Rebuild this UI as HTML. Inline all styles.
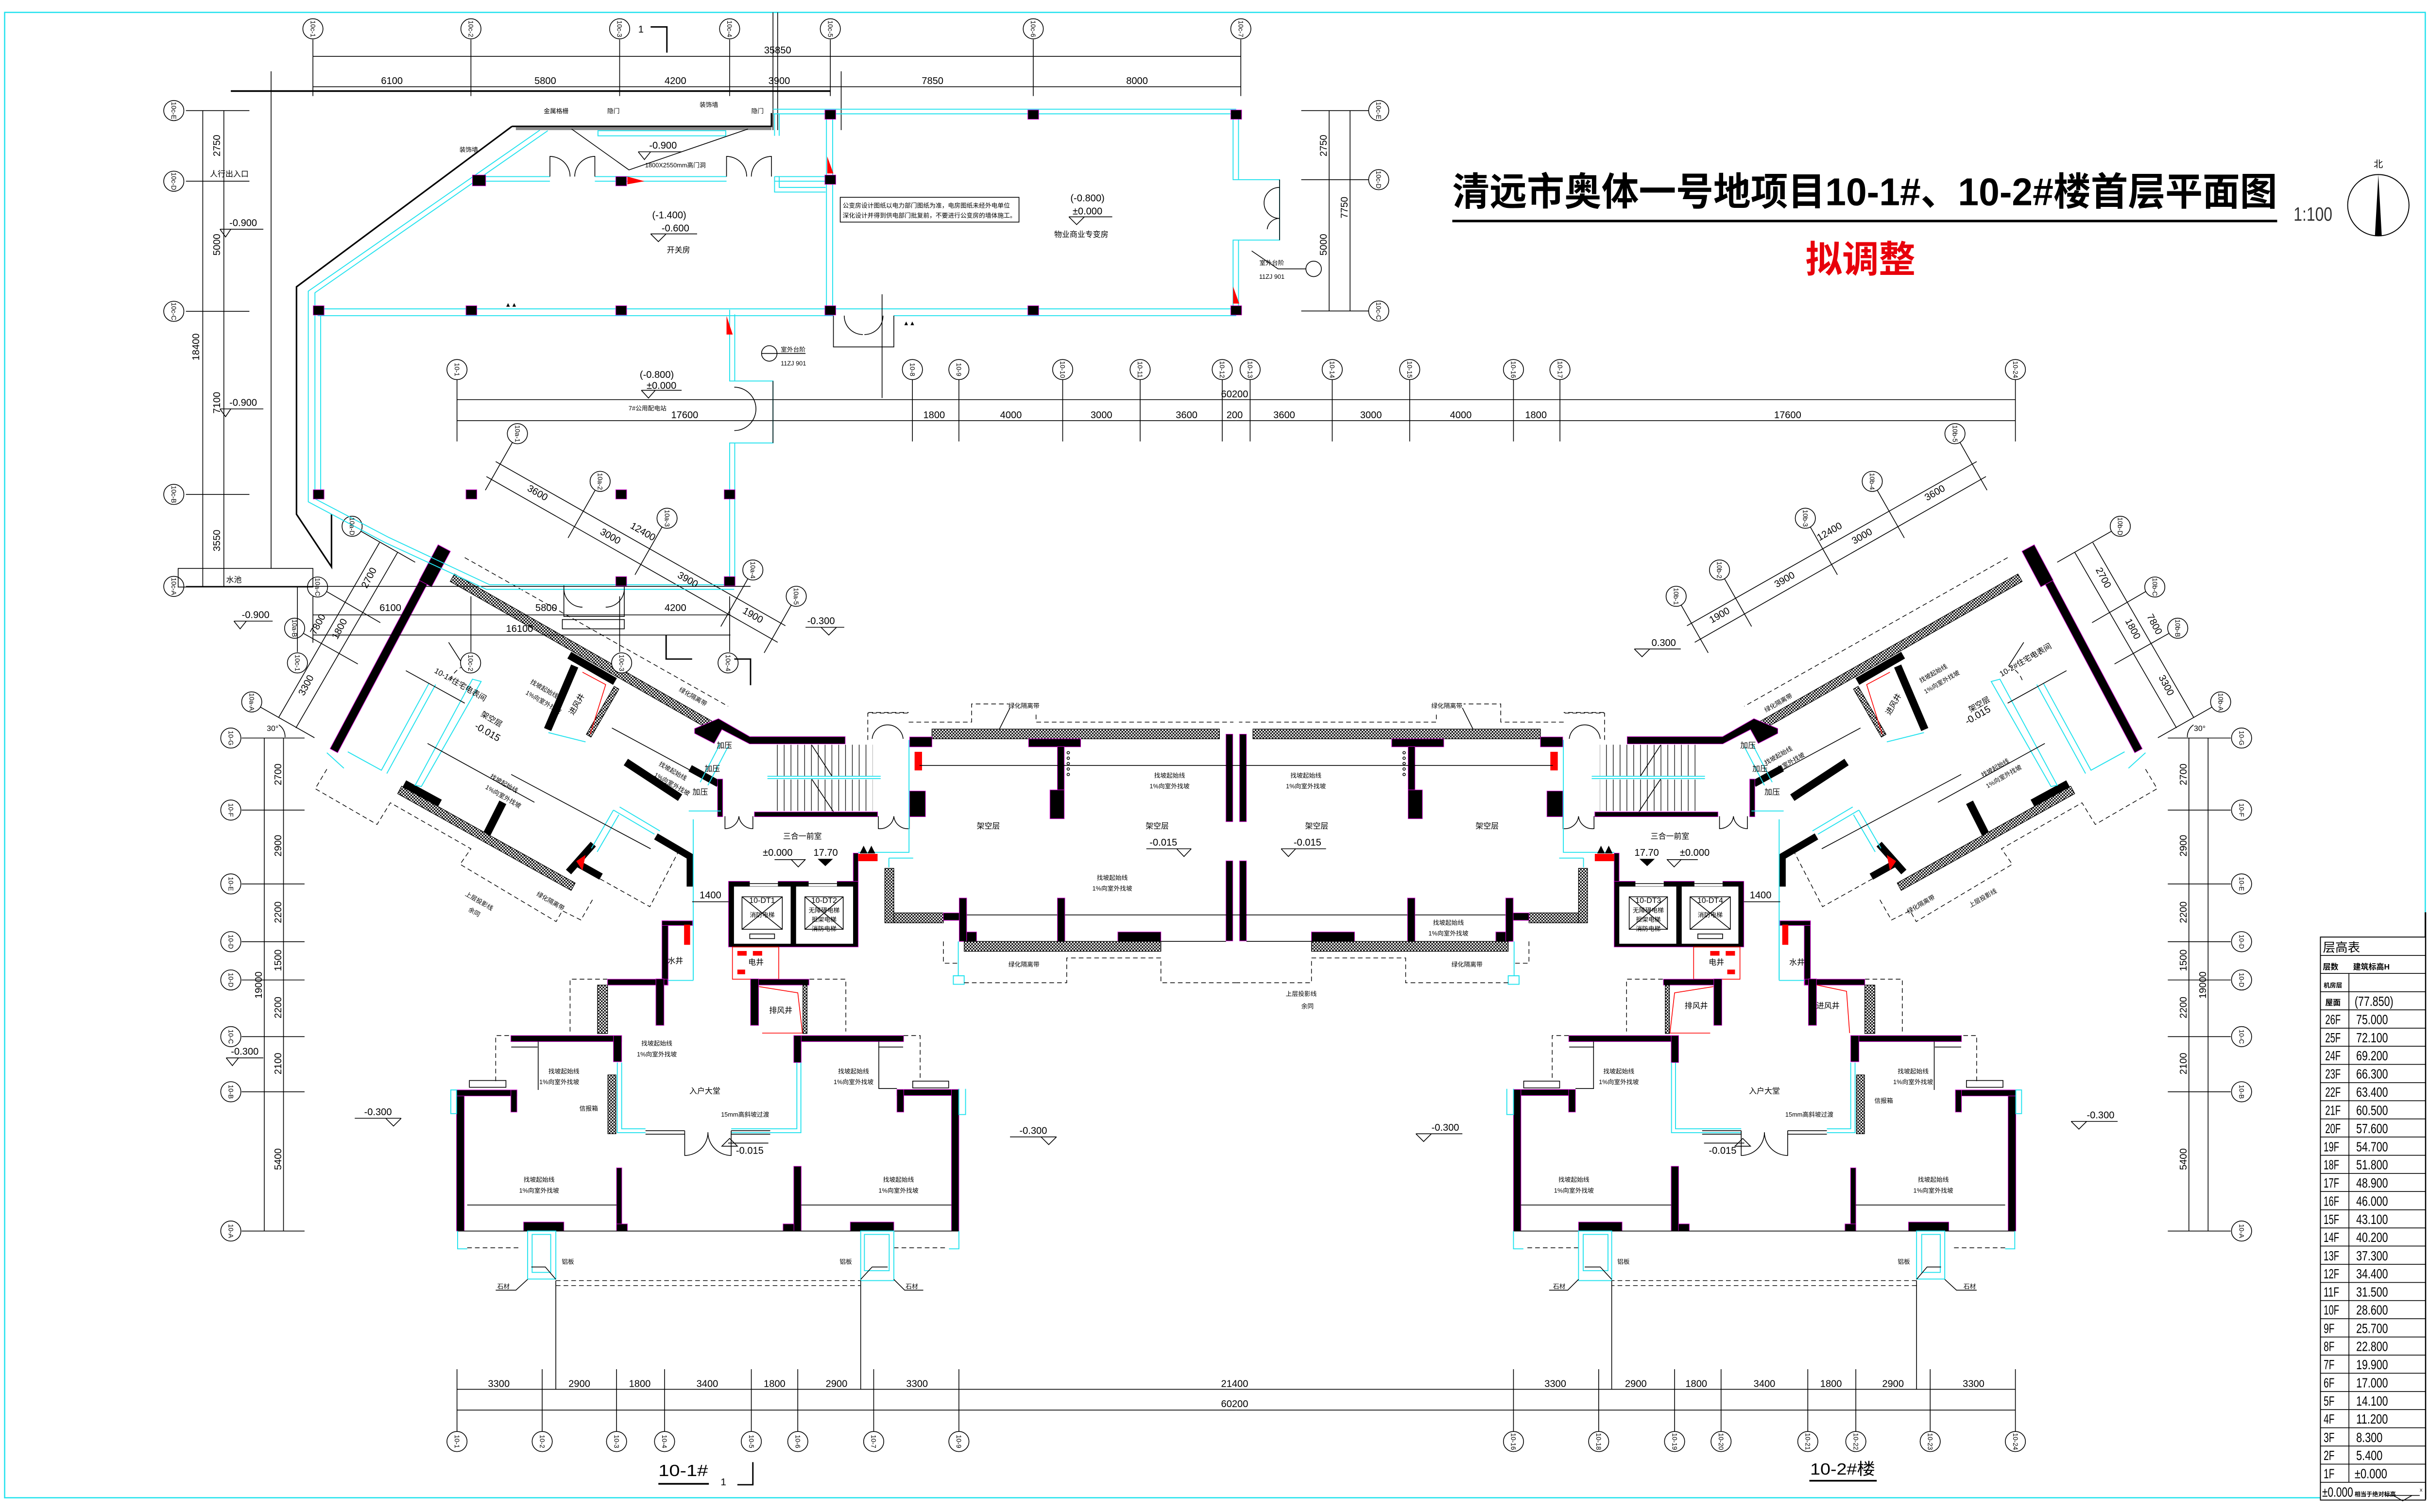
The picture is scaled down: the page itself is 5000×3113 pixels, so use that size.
<!DOCTYPE html>
<html><head><meta charset="utf-8">
<style>
html,body{margin:0;padding:0;background:#fff;}
svg{display:block;}
text{font-family:"Liberation Sans","Noto Sans CJK SC",sans-serif;fill:#000;}
.k{stroke:#000;stroke-width:.5;fill:none}
.k2{stroke:#000;stroke-width:1;fill:none}
.c{stroke:#22e2ee;stroke-width:.6;fill:none}
.d{stroke:#000;stroke-width:.45;fill:none;stroke-dasharray:3 2}
.r{stroke:#f00;stroke-width:.5;fill:none}
.w{fill:#000;stroke:#d000d0;stroke-width:.35}
.h{fill:url(#ht);stroke:#000;stroke-width:.4}
.ax{fill:#fff;stroke:#000;stroke-width:.5}
.L3{stroke:#000;stroke-width:3.5;fill:none}
.L4{stroke:#000;stroke-width:4.5;fill:none}
.L5{stroke:#000;stroke-width:5;fill:none}
.m{text-anchor:middle}
.al text{font-size:4.3px;text-anchor:middle}
.dm text{font-size:6.3px;text-anchor:middle}
.n4{font-size:4px}.n5{font-size:5px}.n6{font-size:6.3px}
</style></head><body>
<svg xmlns="http://www.w3.org/2000/svg" width="5000" height="3113" viewBox="0 0 1568 976.2" preserveAspectRatio="none">
<defs>
<pattern id="ht" width="2" height="2" patternUnits="userSpaceOnUse"><rect width="2" height="2" fill="#fff"/><rect width="1" height="1" fill="#000"/><rect x="1" y="1" width="1" height="1" fill="#000"/></pattern>
<pattern id="st" width="4.4" height="10" patternUnits="userSpaceOnUse"><path d="M0.2,0V10" stroke="#000" stroke-width=".4"/></pattern>
</defs>
<rect x="0" y="0" width="1568" height="976.2" fill="#fff"/>
<!-- frame -->
<rect x="3" y="8" width="1562.6" height="959" fill="none" stroke="#22e2ee" stroke-width=".8"/>
<path d="M1565.7,589V968" stroke="#000" stroke-width="1" fill="none"/>

<!-- ================= HALF (mirrored) ================= -->
<g id="H">
<!-- top middle dims -->
<path class="k" d="M295,258H798M295,271.6H798M295,245V285M589,245V285M619,245V285M686,245V285M736,245V285M789,245V285"/>
<g class="ax"><circle cx="295" cy="238.6" r="6.5"/><circle cx="589" cy="238.6" r="6.5"/><circle cx="619" cy="238.6" r="6.5"/><circle cx="686" cy="238.6" r="6.5"/><circle cx="736" cy="238.6" r="6.5"/><circle cx="789" cy="238.6" r="6.5"/></g>
<!-- bottom dims -->
<path class="k" d="M295,897H798M295,910.4H798M295,884V924M350,884V924M398,884V924M429,884V924M485,884V924M515,884V924M564,884V924M619,884V924"/>
<g class="ax"><circle cx="295" cy="930.7" r="6.5"/><circle cx="350" cy="930.7" r="6.5"/><circle cx="398" cy="930.7" r="6.5"/><circle cx="429" cy="930.7" r="6.5"/><circle cx="485" cy="930.7" r="6.5"/><circle cx="515" cy="930.7" r="6.5"/><circle cx="564" cy="930.7" r="6.5"/><circle cx="619" cy="930.7" r="6.5"/></g>
<!-- left axis column -->
<path class="k" d="M170.6,476.5V794.8M183,476.5V794.8M156,476.5H196.6M156,523H196.6M156,570.7H196.6M156,608H196.6M156,632.7H196.6M156,669.3H196.6M156,704.9H196.6M156,794.8H196.6"/>
<g class="ax"><circle cx="149" cy="476.5" r="6.5"/><circle cx="149" cy="523" r="6.5"/><circle cx="149" cy="570.7" r="6.5"/><circle cx="149" cy="608" r="6.5"/><circle cx="149" cy="632.7" r="6.5"/><circle cx="149" cy="669.3" r="6.5"/><circle cx="149" cy="704.9" r="6.5"/><circle cx="149" cy="794.8" r="6.5"/></g>
<!-- wing dims top -->
<path class="k" d="M314,307.7L502,414.7M320,298L507,404M330.8,285.6L313.3,316.5M384.2,316.5L366.7,347.3M427.4,340.2L409.9,371.1M482.8,373.6L465.3,404.5M510.8,390.6L493.3,421.5"/>
<g class="ax"><circle cx="334" cy="280" r="6.5"/><circle cx="387.4" cy="310.8" r="6.5"/><circle cx="430.6" cy="334.6" r="6.5"/><circle cx="486" cy="368" r="6.5"/><circle cx="514" cy="385" r="6.5"/></g>
<!-- wing dims left -->
<path class="k" d="M256.7,356.6L191,470M245,350.3L180,463M233,343L268,363M211,382L245.5,402M196,409L231,428.7M168,456.5L203,476.3"/>
<path class="k" d="M180,468A9,9 0 0 1 184,476"/>
<g class="ax"><circle cx="227.3" cy="339.8" r="6.5"/><circle cx="205" cy="379" r="6.5"/><circle cx="190.2" cy="405.6" r="6.5"/><circle cx="162.5" cy="453.2" r="6.5"/></g>

<!-- ===== WING ===== -->
<rect class="w" x="-2.75" y="0" width="5.5" height="148" transform="translate(285,354) rotate(28)"/>
<rect class="w" x="-3" y="-1" width="9" height="26" transform="translate(285,354) rotate(28)"/>
<polygon class="h" points="293.4,370.6 461.4,466.6 458.6,471.4 290.6,375.4"/>
<polygon class="w" points="448.4,470.4 463.8,464 484,475.6 545.6,475.6 545.6,480.3 483.9,480.3 466,471 461,480 448.4,473.5"/>
<path class="d" d="M300,360L470,456"/>
<!-- intake shaft -->
<path class="L5" d="M367.5,423L397,440M371,430L353.5,471"/>
<polygon class="h" points="399.5,444.9 381.5,475.9 378.5,474.1 396.5,443.1"/>
<path class="r" d="M376,434L391,442L381,474"/>
<path class="c" d="M354,473L378,479"/>
<path class="L5" d="M404,492L439,515"/>
<path class="L4" d="M445.5,496L463.7,506"/>
<rect class="w" x="463.2" y="503" width="3.3" height="24.3"/>
<path class="L5" d="M324.6,518L313,541"/>
<polygon class="h" points="259.3,507.6 371.3,570.1 368.7,574.9 256.7,512.4"/>
<path class="L5" d="M261,506L284,518.5"/>
<path class="L4" d="M367,563L383,545M372,557L388,566"/>
<polygon points="372,556 378,552 376,562" fill="#f00"/>
<path class="L4" d="M423.4,540L445.5,553L445.5,572.4"/>
<!-- wing cyan -->
<polygon class="c" points="310.6,440 272,507.8 268,507 305,438.5"/>
<polyline class="c" points="281.2,442 249.7,499.4"/>
<polyline class="c" points="277,441 246.2,497.3 224.5,485.4"/>
<path class="c" d="M211,486L222,496M396,523L422.5,538.6M396,523L381.8,547.7M400,521L426,536.5M399.5,526L385.5,550M447.5,529V632M465,480L452,505M470,482L457,507M444.6,523.6H465.4"/>
<path class="k" d="M289.6,414.7L299.4,430"/>
<path class="d" d="M299.4,430A16,16 0 0 0 290,441"/>
<path class="k" d="M262,433L300,454M276,480L345,518M330,500L420,548M395,470L445,497"/>
<path class="d" d="M211,496.6L203.5,509.2L243.4,532.3L252,518.3L304,548L297,558L359,595L363,588L375,594L383,580M383,565L419.5,585.4L437.7,550.3"/>
<!-- stair -->
<rect x="500" y="480.8" width="63.3" height="20.4" fill="url(#st)"/>
<rect x="500" y="503.3" width="63.3" height="20.3" fill="url(#st)"/>
<path class="c" d="M495.4,501.2H568.5M495.4,502.7H568.5"/>
<path class="k" d="M524,481L537,501M524,503L538,524"/>
<rect class="w" x="487" y="524.2" width="79.5" height="3.1"/>
<path class="k" d="M468,527V535A9,9 0 0 0 477,527M486,527V535A9,9 0 0 1 477,527M567,527V535A9,9 0 0 0 577,527M587,527V535A9,9 0 0 1 577,527"/>
<rect class="w" x="587.2" y="510.7" width="10.2" height="16.6"/>
<path class="c" d="M554,550.3H586.8V477.7M573.8,554H589.5M573.8,554V560"/>
<path class="d" d="M560.2,477.7V460.4H586.3"/>
<path class="k" d="M563,477A10,10 0 0 1 573,468M583,477A10,10 0 0 0 573,468"/>
<!-- front room / elevators -->
<rect class="w" x="550.8" y="550.8" width="3.2" height="19"/>
<rect x="554" y="551.3" width="12.5" height="4.7" fill="#f00"/>
<path d="M555,551L557.5,546L560,551ZM560,551L562.5,546L565,551Z" fill="#000"/>
<rect class="w" x="470.3" y="569" width="83.7" height="42.4"/>
<rect x="473.8" y="572.4" width="36.6" height="36.9" fill="#fff"/>
<rect x="513.9" y="572.4" width="36.8" height="36.9" fill="#fff"/>
<rect x="484" y="568.6" width="18.2" height="3.6" fill="#fff"/>
<rect x="522" y="568.6" width="18.3" height="3.6" fill="#fff"/>
<path class="k" d="M484,570.5H502.2M522,570.5H540.3"/>
<path class="k" d="M479,579H505V600H479ZM479,579L505,600M505,579L479,600M519.6,579H544.3V600H519.6ZM519.6,579L544.3,600M544.3,579L519.6,600M484,603H500V606H484Z"/>
<path class="k" d="M446.8,582.2H470.3"/>
<!-- shafts -->
<rect class="w" x="427.3" y="594.5" width="4" height="41.5"/>
<rect class="w" x="427.3" y="594.5" width="19.7" height="3"/>
<rect x="441.6" y="597" width="3.9" height="13" fill="#f00"/>
<path class="c" d="M447.5,594V633M431.3,633H447.5"/>
<rect class="w" x="392.2" y="632.2" width="38.8" height="3.8"/>
<rect class="w" x="423.4" y="632" width="5.2" height="30"/>
<rect class="r" x="472.8" y="611.4" width="29.9" height="20.8"/>
<rect x="476" y="614" width="6" height="3" fill="#f00"/><rect x="486" y="614" width="6" height="3" fill="#f00"/><rect x="476" y="626" width="5" height="3" fill="#f00"/>
<rect class="w" x="484.5" y="632.2" width="37.7" height="3.8"/>
<rect class="w" x="484.5" y="632" width="5.2" height="30"/>
<path class="r" d="M490,637L515,641L518,667H492"/>
<rect class="h" x="518.3" y="636" width="2.7" height="31.3"/>
<rect class="h" x="385.7" y="636" width="6.5" height="31.3"/>
<!-- lobby / units -->
<rect class="w" x="329.8" y="668.6" width="71.5" height="3.9"/>
<rect class="w" x="513" y="668.6" width="70.3" height="3.9"/>
<rect class="w" x="396" y="668.6" width="5.3" height="16.9"/>
<rect class="w" x="512.4" y="668.6" width="4.8" height="17.4"/>
<path class="c" d="M398.5,686V731.3H416.7M472,731.3H517V686M401.3,686V728.8H416.7M472,728.8H514.4V686"/>
<path class="k" d="M416.7,730H442M472,730H497.2M416.7,732.3H442M472,732.3H497.2M442,730V746A15,15 0 0 0 457,731M472,730V746A15,15 0 0 1 457,731"/>
<rect class="h" x="392.4" y="694" width="5.2" height="38"/>
<rect class="w" x="294.7" y="703.7" width="5" height="91"/>
<rect class="w" x="294.7" y="703.7" width="39" height="3.9"/>
<rect class="w" x="329.8" y="703.7" width="3.9" height="14.3"/>
<rect class="w" x="579" y="703.4" width="40" height="3.9"/>
<rect class="w" x="614.2" y="703.4" width="4.8" height="91.4"/>
<rect class="w" x="579" y="703.4" width="4.4" height="14.6"/>
<rect class="w" x="398" y="754" width="3.4" height="40.8"/>
<rect class="w" x="398" y="790.2" width="7" height="4.6"/>
<rect class="w" x="512.4" y="753" width="4.8" height="41.8"/>
<rect class="w" x="505.5" y="790.2" width="7" height="4.6"/>
<rect class="w" x="338" y="789" width="26" height="5.8"/>
<rect class="w" x="548.9" y="789" width="28.1" height="5.8"/>
<path class="k" d="M295,794.8H619M347.4,672.5V703.7M567.3,672.5V702.8H579M301.6,778H398M517.2,778H614.2M330,676H347M567,676H583"/>
<path class="d" d="M320,698V668.6H329.8M368,666V632.2H392M522.6,632.2H546V666M583.3,668.6H594V697"/>
<rect class="k" x="303" y="697.6" width="23.6" height="4.4"/>
<rect class="k" x="589.2" y="698" width="23.2" height="4.4"/>
<path class="c" d="M291,703.7H294.7V719H291ZM619,703V719.6H623.3V703M295.4,794.8V806.3H301.6M619,794.8V806.3H612.6"/>
<path class="d" d="M301.6,805.6H335.4M577,805.6H612"/>
<rect class="c" x="340.6" y="794.8" width="18.2" height="31"/>
<rect class="c" x="343.5" y="797" width="12" height="24.5"/>
<rect class="c" x="555.6" y="794.8" width="21.4" height="32"/>
<rect class="c" x="558" y="797" width="16" height="23.4"/>
<path class="d" d="M358.8,826.8H555.6M358.8,830H555.6"/>
<path class="k" d="M358.8,826.8V897M555.6,826.8V897M340.6,826L333,833H320M577,826L584,833H596M358.8,826L352,818H343M555.6,826L563,818H573"/>
<!-- podium -->
<rect class="h" x="601.6" y="470.7" width="185.6" height="6.3"/>
<rect class="w" x="587.2" y="475.8" width="14.4" height="6.4"/>
<rect class="w" x="664" y="477" width="33.6" height="5.2"/>
<rect class="w" x="682.6" y="482" width="4.4" height="28"/>
<rect class="w" x="677.8" y="510" width="9.2" height="18.6"/>
<rect class="w" x="791.4" y="474" width="4.4" height="56.5"/>
<rect class="w" x="791.4" y="555.8" width="4.4" height="51.7"/>
<rect x="590.4" y="485.4" width="4.8" height="12" fill="#f00"/>
<path class="k" d="M593.6,494.2H798M624,590.7H798M749.4,607.8H791.4"/>
<g class="k"><circle cx="689.6" cy="486" r=".8"/><circle cx="689.6" cy="489.5" r=".8"/><circle cx="689.6" cy="493" r=".8"/><circle cx="689.6" cy="496.5" r=".8"/><circle cx="689.6" cy="500" r=".8"/></g>
<path class="d" d="M560.6,460H586.6M586.6,466.2H627.2V454.5H651.2M668.8,461.4V466.2H796.2"/>
<path class="k" d="M652,457L645,471"/>
<rect class="h" x="571.2" y="560.6" width="5.8" height="35.2"/>
<rect class="h" x="577" y="589.4" width="32" height="6.4"/>
<rect class="w" x="609" y="589.4" width="15" height="4.8"/>
<rect class="w" x="619.2" y="579.8" width="4.8" height="28"/>
<rect class="w" x="682.6" y="579.8" width="4.8" height="28"/>
<rect class="w" x="624" y="601.7" width="6.4" height="6.1"/>
<rect class="w" x="721.6" y="601.7" width="27.8" height="6.1"/>
<rect class="h" x="622.4" y="607.8" width="127" height="6.4"/>
<path class="c" d="M618.6,607.8V630M615.4,630H622.4V635.5H615.4Z"/>
<path class="d" d="M609,607.8V621.9H619M622.4,634.5H688.6V618.5H749.4V634.5H798"/>
</g>
<use href="#H" transform="matrix(-1,0,0,1,1596,0)"/>

<!-- 10-2 extra red lines -->
<path class="r" d="M1173,636L1192,640L1194,667"/>

<!-- ================= COMMERCIAL (left only) ================= -->
<!-- top dims -->
<path class="k" d="M202,36.4H801M202,56H801M202,25.5V62M304,25.5V62M400,25.5V62M471,25.5V62M536,25.5V62M667,25.5V62M801,25.5V62M499,8V84M502,8V84M543,46V84"/>
<path d="M149,58.8H536" stroke="#000" stroke-width="1.1" fill="none"/>
<g class="ax"><circle cx="202" cy="18.6" r="6.5"/><circle cx="304" cy="18.6" r="6.5"/><circle cx="400" cy="18.6" r="6.5"/><circle cx="471" cy="18.6" r="6.5"/><circle cx="536" cy="18.6" r="6.5"/><circle cx="667" cy="18.6" r="6.5"/><circle cx="801" cy="18.6" r="6.5"/></g>
<path d="M420,17.4H430.5V34" stroke="#000" stroke-width=".9" fill="none"/>
<text x="412" y="21" class="n6">1</text>
<!-- left column -->
<path class="k" d="M130.9,71.4V379M144.5,71.4V379M120,71.4H161M120,117H161M120,201H161M120,319.2H161M120,378.6H484.5M175,46V367"/>
<g class="ax"><circle cx="112.2" cy="71.4" r="6.5"/><circle cx="112.2" cy="117" r="6.5"/><circle cx="112.2" cy="201" r="6.5"/><circle cx="112.2" cy="319.2" r="6.5"/><circle cx="112.2" cy="378.6" r="6.5"/></g>
<rect class="k" x="115" y="367" width="87" height="12"/>
<!-- right dims -->
<path class="k" d="M858,71.4V200.8M871.5,71.4V200.8M840,71.4H884M840,116H884M840,200.8H884"/>
<g class="ax"><circle cx="890" cy="71.4" r="6.5"/><circle cx="890" cy="116" r="6.5"/><circle cx="890" cy="200.8" r="6.5"/></g>
<!-- outer walls -->
<path class="k2" d="M330.5,81.6L191.4,185.2V332L214,366V332"/>
<path class="c" d="M348.5,84L199,188V324L248,350L314,380.5H474M353.6,84.4L203.3,189V322L251,347L316,377.5H474"/>
<path class="k2" d="M330.5,81.6H498V73"/>
<rect x="333" y="82" width="165" height="2" fill="#888"/>
<rect class="c" x="386" y="84.4" width="82.5" height="3.3"/>
<path class="k" d="M369,83.3L406,109.7L482.8,83.3"/>
<path class="c" d="M499,70.5H798M499,73.5H798M500,73.5V87.7M503,73.5V87.7M500,114V124H533M503,114V121H533"/>
<path class="c" d="M309,114H355M384,114H469M500,114H533M309,117H355M384,117H469M500,117H533"/>
<path class="k" d="M355,114V101A13,13 0 0 1 368,114M384,114V101A13,13 0 0 0 371,114M469,114V101A13,13 0 0 1 482,114M498,114V101A13,13 0 0 0 485,114"/>
<path class="c" d="M533.5,74V200M537.5,74V200M796,74V116H826V155H796V200M799.5,74V116M799.5,155V200"/>
<path class="k" d="M826,116V155M826,121A10,10 0 0 0 816,131A10,10 0 0 0 826,141M826,141A8,8 0 0 0 818,148"/>
<path class="c" d="M205,199.4H798M205,203.8H538M577,203.8H798M207,203.8V322"/>
<path class="k" d="M538,203.8V224H577V203.8M545,203.8A12,12 0 0 0 557,216M570,203.8A12,12 0 0 1 558,216M569.4,190V257"/>
<path class="c" d="M471,200V246H499V286H471V375M474.3,203V246M474.3,286V375"/>
<path class="k" d="M499,246V286M474,250A14,14 0 0 1 488,264A14,14 0 0 1 474,278"/>
<path class="k" d="M364,378V398H403V378M363,400H403V406H363ZM364,380A12,12 0 0 0 376,392M403,380A12,12 0 0 1 391,392"/>
<!-- columns -->
<g class="w">
<rect x="532.5" y="71" width="7" height="6"/><rect x="663.5" y="71" width="7" height="6"/><rect x="794.5" y="71" width="7" height="6"/>
<rect x="305" y="113" width="8.5" height="7"/><rect x="397.5" y="114" width="7" height="6"/><rect x="532.5" y="113" width="7" height="6"/>
<rect x="202.2" y="197.4" width="7" height="6"/><rect x="300.8" y="197.4" width="7" height="6"/><rect x="397.5" y="197.4" width="7" height="6"/><rect x="532.5" y="197.4" width="7" height="6"/><rect x="663.5" y="197.4" width="7" height="6"/><rect x="794.5" y="197.4" width="7" height="6"/>
<rect x="202.2" y="316.2" width="7" height="6"/><rect x="300.8" y="316.2" width="7" height="6"/><rect x="397.5" y="316.2" width="7" height="6"/><rect x="467.5" y="316.2" width="7" height="6"/>
<rect x="397.5" y="372.3" width="7" height="6"/><rect x="467.5" y="372.3" width="7" height="6"/>
</g>
<g fill="#f00"><polygon points="534,101 538,112 534,112"/><polygon points="469,204 473,216 469,216"/><polygon points="796,185 800,196 796,196"/><polygon points="405,114 416,117 405,119"/></g>
<rect class="k" x="542.4" y="127.4" width="115.4" height="16"/>
<!-- lower commercial dims / axes -->
<path class="k" d="M202,397H471.5M202,410H471.5M202,385V415M304,385V421M400,385V421M471,385V421M192,379V421"/>
<g class="ax"><circle cx="192" cy="428" r="6.5"/><circle cx="303.8" cy="428" r="6.5"/><circle cx="401.3" cy="428" r="6.5"/><circle cx="470" cy="428" r="6.5"/></g>
<path d="M430,410V425.5H446.8M474,425.5H484.5V442.4" stroke="#000" stroke-width=".9" fill="none"/>
<circle class="k" cx="496.6" cy="228.2" r="5"/><path class="k" d="M491.6,228.2H520"/>
<circle class="k" cx="848" cy="173.6" r="5"/><path class="k" d="M843,173.6H825L808,162"/>

<!-- ================= TEXT ================= -->
<!-- axis labels -->
<g class="al">
<text transform="translate(202,18.6) rotate(90)" dy="1.5">10c-1</text><text transform="translate(304,18.6) rotate(90)" dy="1.5">10c-2</text><text transform="translate(400,18.6) rotate(90)" dy="1.5">10c-3</text><text transform="translate(471,18.6) rotate(90)" dy="1.5">10c-4</text><text transform="translate(536,18.6) rotate(90)" dy="1.5">10c-5</text><text transform="translate(667,18.6) rotate(90)" dy="1.5">10c-6</text><text transform="translate(801,18.6) rotate(90)" dy="1.5">10c-7</text>
<text transform="translate(112.2,71.4) rotate(90)" dy="1.5">10c-E</text><text transform="translate(112.2,117) rotate(90)" dy="1.5">10c-D</text><text transform="translate(112.2,201) rotate(90)" dy="1.5">10c-C</text><text transform="translate(112.2,319.2) rotate(90)" dy="1.5">10c-B</text><text transform="translate(112.2,378.6) rotate(90)" dy="1.5">10c-A</text>
<text transform="translate(890,71.4) rotate(90)" dy="1.5">10c-E</text><text transform="translate(890,116) rotate(90)" dy="1.5">10c-D</text><text transform="translate(890,200.8) rotate(90)" dy="1.5">10c-C</text>
<text transform="translate(192,428) rotate(90)" dy="1.5">10c-1</text><text transform="translate(303.8,428) rotate(90)" dy="1.5">10c-2</text><text transform="translate(401.3,428) rotate(90)" dy="1.5">10c-3</text><text transform="translate(470,428) rotate(90)" dy="1.5">10c-4</text>
<text transform="translate(295,238.6) rotate(90)" dy="1.5">10-1</text><text transform="translate(589,238.6) rotate(90)" dy="1.5">10-8</text><text transform="translate(619,238.6) rotate(90)" dy="1.5">10-9</text><text transform="translate(686,238.6) rotate(90)" dy="1.5">10-10</text><text transform="translate(736,238.6) rotate(90)" dy="1.5">10-11</text><text transform="translate(789,238.6) rotate(90)" dy="1.5">10-12</text><text transform="translate(807,238.6) rotate(90)" dy="1.5">10-13</text><text transform="translate(860,238.6) rotate(90)" dy="1.5">10-14</text><text transform="translate(910,238.6) rotate(90)" dy="1.5">10-15</text><text transform="translate(977,238.6) rotate(90)" dy="1.5">10-16</text><text transform="translate(1007,238.6) rotate(90)" dy="1.5">10-17</text><text transform="translate(1301,238.6) rotate(90)" dy="1.5">10-24</text>
<text transform="translate(295,930.7) rotate(90)" dy="1.5">10-1</text><text transform="translate(350,930.7) rotate(90)" dy="1.5">10-2</text><text transform="translate(398,930.7) rotate(90)" dy="1.5">10-3</text><text transform="translate(429,930.7) rotate(90)" dy="1.5">10-4</text><text transform="translate(485,930.7) rotate(90)" dy="1.5">10-5</text><text transform="translate(515,930.7) rotate(90)" dy="1.5">10-6</text><text transform="translate(564,930.7) rotate(90)" dy="1.5">10-7</text><text transform="translate(619,930.7) rotate(90)" dy="1.5">10-9</text>
<text transform="translate(977,930.7) rotate(90)" dy="1.5">10-16</text><text transform="translate(1032,930.7) rotate(90)" dy="1.5">10-18</text><text transform="translate(1081,930.7) rotate(90)" dy="1.5">10-19</text><text transform="translate(1111,930.7) rotate(90)" dy="1.5">10-20</text><text transform="translate(1167,930.7) rotate(90)" dy="1.5">10-21</text><text transform="translate(1198,930.7) rotate(90)" dy="1.5">10-22</text><text transform="translate(1246,930.7) rotate(90)" dy="1.5">10-23</text><text transform="translate(1301,930.7) rotate(90)" dy="1.5">10-24</text>
<text transform="translate(149,476.5) rotate(90)" dy="1.5">10-G</text><text transform="translate(149,523) rotate(90)" dy="1.5">10-F</text><text transform="translate(149,570.7) rotate(90)" dy="1.5">10-E</text><text transform="translate(149,608) rotate(90)" dy="1.5">10-D</text><text transform="translate(149,632.7) rotate(90)" dy="1.5">10-D</text><text transform="translate(149,669.3) rotate(90)" dy="1.5">10-C</text><text transform="translate(149,704.9) rotate(90)" dy="1.5">10-B</text><text transform="translate(149,794.8) rotate(90)" dy="1.5">10-A</text>
<text transform="translate(1447,476.5) rotate(90)" dy="1.5">10-G</text><text transform="translate(1447,523) rotate(90)" dy="1.5">10-F</text><text transform="translate(1447,570.7) rotate(90)" dy="1.5">10-E</text><text transform="translate(1447,608) rotate(90)" dy="1.5">10-D</text><text transform="translate(1447,632.7) rotate(90)" dy="1.5">10-D</text><text transform="translate(1447,669.3) rotate(90)" dy="1.5">10-C</text><text transform="translate(1447,704.9) rotate(90)" dy="1.5">10-B</text><text transform="translate(1447,794.8) rotate(90)" dy="1.5">10-A</text>
<text transform="translate(334,280) rotate(90)" dy="1.5">10a-1</text><text transform="translate(387.4,310.8) rotate(90)" dy="1.5">10a-2</text><text transform="translate(430.6,334.6) rotate(90)" dy="1.5">10a-3</text><text transform="translate(486,368) rotate(90)" dy="1.5">10a-4</text><text transform="translate(514,385) rotate(90)" dy="1.5">10a-5</text>
<text transform="translate(1262,280) rotate(90)" dy="1.5">10b-5</text><text transform="translate(1208.6,310.8) rotate(90)" dy="1.5">10b-4</text><text transform="translate(1165.4,334.6) rotate(90)" dy="1.5">10b-3</text><text transform="translate(1110,368) rotate(90)" dy="1.5">10b-2</text><text transform="translate(1082,385) rotate(90)" dy="1.5">10b-1</text>
<text transform="translate(227.3,339.8) rotate(90)" dy="1.5">10a-D</text><text transform="translate(205,379) rotate(90)" dy="1.5">10a-C</text><text transform="translate(190.2,405.6) rotate(90)" dy="1.5">10a-B</text><text transform="translate(162.5,453.2) rotate(90)" dy="1.5">10a-A</text>
<text transform="translate(1368.7,339.8) rotate(90)" dy="1.5">10b-D</text><text transform="translate(1391,379) rotate(90)" dy="1.5">10b-C</text><text transform="translate(1405.8,405.6) rotate(90)" dy="1.5">10b-B</text><text transform="translate(1433.5,453.2) rotate(90)" dy="1.5">10b-A</text>
</g>

<!-- dimension numbers -->
<g class="dm">
<text x="502" y="34.5">35850</text>
<text x="253" y="54.3">6100</text><text x="352" y="54.3">5800</text><text x="436" y="54.3">4200</text><text x="503" y="54.3">3900</text><text x="602" y="54.3">7850</text><text x="734" y="54.3">8000</text>
<text transform="translate(142,94) rotate(-90)">2750</text><text transform="translate(142,158) rotate(-90)">5000</text><text transform="translate(142,260) rotate(-90)">7100</text><text transform="translate(142,349) rotate(-90)">3550</text><text transform="translate(128.6,224) rotate(-90)">18400</text>
<text transform="translate(856.5,94) rotate(-90)">2750</text><text transform="translate(856.5,158) rotate(-90)">5000</text><text transform="translate(870,134) rotate(-90)">7750</text>
<text x="797" y="256.5">60200</text>
<text x="442" y="270">17600</text><text x="603" y="270">1800</text><text x="652.6" y="270">4000</text><text x="711" y="270">3000</text><text x="766" y="270">3600</text><text x="797" y="270">200</text><text x="829" y="270">3600</text><text x="885" y="270">3000</text><text x="943" y="270">4000</text><text x="991.5" y="270">1800</text><text x="1154" y="270">17600</text>
<text x="252" y="394.5">6100</text><text x="352.6" y="394.5">5800</text><text x="436" y="394.5">4200</text><text x="335.4" y="408">16100</text>
<text transform="translate(346,320) rotate(30)">3600</text><text transform="translate(393,348) rotate(30)">3000</text><text transform="translate(414,345) rotate(30)">12400</text><text transform="translate(443,376) rotate(30)">3900</text><text transform="translate(485,399) rotate(30)">1900</text>
<text transform="translate(1250,320) rotate(-30)">3600</text><text transform="translate(1203,348) rotate(-30)">3000</text><text transform="translate(1182,345) rotate(-30)">12400</text><text transform="translate(1153,376) rotate(-30)">3900</text><text transform="translate(1111,399) rotate(-30)">1900</text>
<text transform="translate(240,374) rotate(-62)">2700</text><text transform="translate(221,407) rotate(-62)">1800</text><text transform="translate(207,404) rotate(-62)">7800</text><text transform="translate(199.4,443.4) rotate(-62)">3300</text>
<text transform="translate(1356,374) rotate(62)">2700</text><text transform="translate(1375,407) rotate(62)">1800</text><text transform="translate(1389,404) rotate(62)">7800</text><text transform="translate(1396.6,443.4) rotate(62)">3300</text>
<text transform="translate(181.5,500) rotate(-90)">2700</text><text transform="translate(181.5,546) rotate(-90)">2900</text><text transform="translate(181.5,589) rotate(-90)">2200</text><text transform="translate(181.5,620) rotate(-90)">1500</text><text transform="translate(181.5,650.5) rotate(-90)">2200</text><text transform="translate(181.5,686.7) rotate(-90)">2100</text><text transform="translate(181.5,748.4) rotate(-90)">5400</text><text transform="translate(169,636) rotate(-90)">19000</text>
<text transform="translate(1411.5,500) rotate(-90)">2700</text><text transform="translate(1411.5,546) rotate(-90)">2900</text><text transform="translate(1411.5,589) rotate(-90)">2200</text><text transform="translate(1411.5,620) rotate(-90)">1500</text><text transform="translate(1411.5,650.5) rotate(-90)">2200</text><text transform="translate(1411.5,686.7) rotate(-90)">2100</text><text transform="translate(1411.5,748.4) rotate(-90)">5400</text><text transform="translate(1424,636) rotate(-90)">19000</text>
<text x="322" y="895.5">3300</text><text x="374" y="895.5">2900</text><text x="413" y="895.5">1800</text><text x="456.6" y="895.5">3400</text><text x="500" y="895.5">1800</text><text x="540" y="895.5">2900</text><text x="592" y="895.5">3300</text><text x="797" y="895.5">21400</text>
<text x="1004" y="895.5">3300</text><text x="1056" y="895.5">2900</text><text x="1095" y="895.5">1800</text><text x="1139" y="895.5">3400</text><text x="1182" y="895.5">1800</text><text x="1222" y="895.5">2900</text><text x="1274" y="895.5">3300</text>
<text x="797" y="908.5">60200</text>
<text x="458.6" y="580">1400</text><text x="1136.5" y="580">1400</text>
<text x="176" y="472" style="font-size:5px">30°</text><text x="1420" y="472" style="font-size:5px">30°</text>
</g>

<!-- elevation marks -->
<g class="k">
<path d="M229,722H259M249,722L254,727L259,722"/>
<path d="M652,734H682M672,734L677,739L682,734"/>
<path d="M914,732H944M914,732L919,737L924,732"/>
<path d="M1337,724H1367M1337,724L1342,729L1347,724"/>
<path d="M146,683H170M146,683L150,688L154,683"/>
<path d="M520,405H545M530,405L535,410L540,405"/>
<path d="M1055,419H1085M1055,419L1060,424L1065,419"/>
<path d="M412,98H440M412,98L416,103L420,98"/>
<path d="M420,151H450M420,151L425,156L430,151"/>
<path d="M690,140H718M690,140L695,145L700,140"/>
<path d="M414,252H440M414,252L418.6,257L423,252"/>
<path d="M142,148H170M142,148L145.6,153L149,148"/>
<path d="M142,264H170M142,264L145.6,269L149,264"/>
<path d="M151,401H176M151,401L155,406L159,401"/>
<path d="M740,548H769M759.6,548L764.3,553L769,548"/>
<path d="M827,548H856M827,548L831.7,553L836.4,548"/>
<path d="M470,738H496M466,740L471,735L476,740Z"/>
<path d="M1100,738H1126M1120,740L1125,735L1130,740Z"/>
<path d="M500,555H520M510.6,554.8L515.3,559.7L520,554.8"/>
<path d="M1076,555H1096M1076,554.8L1080.7,559.7L1085.4,554.8"/>
</g>
<path d="M527.8,554.5H537.7L532.8,559.2Z" fill="#000"/>
<path d="M1058.3,554.5H1068.2L1063.3,559.2Z" fill="#000"/>
<g class="n6">
<text x="244" y="720" class="m">-0.300</text><text x="667" y="732" class="m">-0.300</text><text x="933" y="730" class="m">-0.300</text><text x="1356" y="722" class="m">-0.300</text>
<text x="158" y="681" class="m">-0.300</text><text x="530" y="403" class="m">-0.300</text><text x="1074" y="417" class="m">0.300</text>
<text x="428" y="96" class="m">-0.900</text><text x="436" y="149.5" class="m">-0.600</text><text x="432" y="141" class="m">(-1.400)</text>
<text x="702" y="130" class="m">(-0.800)</text><text x="702" y="138.5" class="m">±0.000</text>
<text x="424" y="244" class="m">(-0.800)</text><text x="427" y="251" class="m">±0.000</text>
<text x="157" y="146" class="m">-0.900</text><text x="157" y="262" class="m">-0.900</text><text x="165" y="399" class="m">-0.900</text>
<text x="751" y="546" class="m">-0.015</text><text x="844" y="546" class="m">-0.015</text>
<text x="484" y="745" class="m">-0.015</text><text x="1112" y="745" class="m">-0.015</text>
<text x="502" y="552.5" class="m">±0.000</text><text x="533" y="552.5" class="m">17.70</text>
<text x="1063" y="552.5" class="m">17.70</text><text x="1094" y="552.5" class="m">±0.000</text>
</g>

<!-- Chinese annotations -->
<g class="n5">
<text x="148" y="114" class="m">人行出入口</text>
<text x="151" y="376" class="m">水池</text>
<text x="438" y="163" class="m">开关房</text>
<text x="698" y="153" class="m">物业商业专变房</text>
<text x="359" y="73" class="m n4">金属格栅</text><text x="396" y="73" class="m n4">隐门</text><text x="457.6" y="69" class="m n4">装饰墙</text><text x="489" y="73" class="m n4">隐门</text><text x="302.6" y="98" class="m n4">装饰墙</text>
<text x="436" y="108" class="m n4">1800X2550mm高门洞</text>
<text x="544" y="134" class="n4">公变房设计图纸以电力部门图纸为准，电房图纸未经外电单位</text>
<text x="544" y="140.5" class="n4">深化设计并得到供电部门批复前，不要进行公变房的墙体施工。</text>
<text x="504" y="227" class="n4">室外台阶</text><text x="504" y="236" class="n4">11ZJ 901</text>
<text x="821" y="171" class="n4 m">室外台阶</text><text x="821" y="180" class="n4 m">11ZJ 901</text>
<text x="418" y="265" class="m n4">7#公用配电站</text>
<text x="326" y="198" class="n4">▲▲</text><text x="583" y="210" class="n4">▲▲</text>
<text transform="translate(280,434) rotate(30)">10-1#住宅电表间</text>
<text transform="translate(310,462) rotate(30)">架空层</text>
<text transform="translate(306,470) rotate(30)" style="font-size:6.3px">-0.015</text>
<text transform="translate(370,462) rotate(-60)">进风井</text>
<text x="467.6" y="483" class="m">加压</text><text x="459.8" y="498" class="m">加压</text><text x="452" y="513" class="m">加压</text>
<text transform="translate(438,446) rotate(30)" class="n4">绿化隔离带</text>
<text transform="translate(346,578) rotate(30)" class="n4">绿化隔离带</text>
<text transform="translate(300,578) rotate(30)" class="n4">上层投影线</text>
<text transform="translate(302,588) rotate(30)" class="n4">余同</text>
<text transform="translate(342,441) rotate(30)" class="n4">找坡起始线</text><text transform="translate(339,448) rotate(30)" class="n4">1%向室外找坡</text>
<text transform="translate(316,502) rotate(30)" class="n4">找坡起始线</text><text transform="translate(313,509) rotate(30)" class="n4">1%向室外找坡</text>
<text transform="translate(425,494) rotate(30)" class="n4">找坡起始线</text><text transform="translate(422,501) rotate(30)" class="n4">1%向室外找坡</text>
<text x="518" y="541.5" class="m">三合一前室</text>
<text x="1078" y="541.5" class="m">三合一前室</text>
<text x="492" y="583" class="m">10-DT1</text><text x="492" y="592" class="m n4">消防电梯</text>
<text x="532" y="583" class="m">10-DT2</text><text x="532" y="589" class="m n4">无障碍电梯</text><text x="532" y="595" class="m n4">担架电梯</text><text x="532" y="601" class="m n4">消防电梯</text>
<text x="1104" y="583" class="m">10-DT4</text><text x="1104" y="592" class="m n4">消防电梯</text>
<text x="1064" y="583" class="m">10-DT3</text><text x="1064" y="589" class="m n4">无障碍电梯</text><text x="1064" y="595" class="m n4">担架电梯</text><text x="1064" y="601" class="m n4">消防电梯</text>
<text x="436" y="622" class="m">水井</text><text x="488" y="623" class="m">电井</text><text x="504" y="654" class="m">排风井</text>
<text x="1160" y="623" class="m">水井</text><text x="1108" y="623" class="m">电井</text><text x="1095" y="651" class="m">排风井</text><text x="1180" y="651" class="m">进风井</text>
<text x="455" y="706" class="m">入户大堂</text><text x="1139" y="706" class="m">入户大堂</text>
<text x="481" y="721" class="m n4">15mm高斜坡过渡</text><text x="1168" y="721" class="m n4">15mm高斜坡过渡</text>
<text x="380" y="717" class="m n4">信报箱</text><text x="1216" y="712" class="m n4">信报箱</text>
<text x="364" y="693" class="m n4">找坡起始线</text><text x="361" y="700" class="m n4">1%向室外找坡</text>
<text x="551" y="693" class="m n4">找坡起始线</text><text x="551" y="700" class="m n4">1%向室外找坡</text>
<text x="424" y="675" class="m n4">找坡起始线</text><text x="424" y="682" class="m n4">1%向室外找坡</text>
<text x="348" y="763" class="m n4">找坡起始线</text><text x="348" y="770" class="m n4">1%向室外找坡</text>
<text x="580" y="763" class="m n4">找坡起始线</text><text x="580" y="770" class="m n4">1%向室外找坡</text>
<text x="1045" y="693" class="m n4">找坡起始线</text><text x="1045" y="700" class="m n4">1%向室外找坡</text>
<text x="1235" y="693" class="m n4">找坡起始线</text><text x="1235" y="700" class="m n4">1%向室外找坡</text>
<text x="1016" y="763" class="m n4">找坡起始线</text><text x="1016" y="770" class="m n4">1%向室外找坡</text>
<text x="1248" y="763" class="m n4">找坡起始线</text><text x="1248" y="770" class="m n4">1%向室外找坡</text>
<text x="366.6" y="816" class="m n4">铝板</text><text x="546" y="816" class="m n4">铝板</text><text x="325" y="832" class="m n4">石材</text><text x="588.6" y="832" class="m n4">石材</text>
<text x="1048" y="816" class="m n4">铝板</text><text x="1229" y="816" class="m n4">铝板</text><text x="1006.5" y="832" class="m n4">石材</text><text x="1271.5" y="832" class="m n4">石材</text>
<text x="638" y="535" class="m">架空层</text><text x="747" y="535" class="m">架空层</text><text x="850" y="535" class="m">架空层</text><text x="960" y="535" class="m">架空层</text>
<text x="755" y="502" class="m n4">找坡起始线</text><text x="755" y="509" class="m n4">1%向室外找坡</text>
<text x="843" y="502" class="m n4">找坡起始线</text><text x="843" y="509" class="m n4">1%向室外找坡</text>
<text x="718" y="568" class="m n4">找坡起始线</text><text x="718" y="575" class="m n4">1%向室外找坡</text>
<text x="935" y="597" class="m n4">找坡起始线</text><text x="935" y="604" class="m n4">1%向室外找坡</text>
<text x="661" y="457" class="m n4">绿化隔离带</text><text x="934" y="457" class="m n4">绿化隔离带</text>
<text x="661" y="624" class="m n4">绿化隔离带</text><text x="947" y="624" class="m n4">绿化隔离带</text>
<text x="840" y="643" class="m n4">上层投影线</text><text x="844" y="651" class="m n4">余同</text>
<text transform="translate(1292,437) rotate(-30)">10-2#住宅电表间</text>
<text transform="translate(1272,460) rotate(-30)">架空层</text>
<text transform="translate(1270,468) rotate(-30)" style="font-size:6.3px">-0.015</text>
<text transform="translate(1220,462) rotate(-60)">进风井</text>
<text x="1128.4" y="483" class="m">加压</text><text x="1136.2" y="498" class="m">加压</text><text x="1144" y="513" class="m">加压</text>
<text transform="translate(1280,502) rotate(-30)" class="n4">找坡起始线</text><text transform="translate(1283,509) rotate(-30)" class="n4">1%向室外找坡</text>
<text transform="translate(1240,441) rotate(-30)" class="n4">找坡起始线</text><text transform="translate(1243,448) rotate(-30)" class="n4">1%向室外找坡</text>
<text transform="translate(1140,494) rotate(-30)" class="n4">找坡起始线</text><text transform="translate(1143,501) rotate(-30)" class="n4">1%向室外找坡</text>
<text transform="translate(1140,460) rotate(-30)" class="n4">绿化隔离带</text>
<text transform="translate(1232,590) rotate(-30)" class="n4">绿化隔离带</text>
<text transform="translate(1272,586) rotate(-30)" class="n4">上层投影线</text>
</g>

<!-- building labels -->
<text x="441" y="953" class="m" style="font-size:10.5px" textLength="32" lengthAdjust="spacingAndGlyphs">10-1#</text>
<path d="M425,958H457.6" stroke="#000" stroke-width="1.1"/>
<text x="467" y="959" class="m" style="font-size:6.5px">1</text>
<path d="M476,958.6H486V944" stroke="#000" stroke-width=".9" fill="none"/>
<text x="1189.5" y="952" class="m" style="font-size:10.5px" textLength="42" lengthAdjust="spacingAndGlyphs">10-2#楼</text>
<path d="M1168,956H1211.5" stroke="#000" stroke-width="1.1"/>

<!-- ================= TITLE ================= -->
<text x="937.5" y="132.5" style="font-size:25px;font-weight:bold;font-family:'Liberation Sans','Noto Sans CJK SC',sans-serif" textLength="532.5" lengthAdjust="spacingAndGlyphs">清远市奥体一号地项目10-1#、10-2#楼首层平面图</text>
<rect x="937.5" y="141.9" width="532.5" height="1.6" fill="#000"/>
<text x="1201" y="176" class="m" style="font-size:24px;font-weight:bold;fill:#e8000b" textLength="71" lengthAdjust="spacingAndGlyphs">拟调整</text>
<text x="1480.6" y="142.5" style="font-size:12.5px;fill:#333" textLength="25" lengthAdjust="spacingAndGlyphs">1:100</text>
<circle cx="1535.3" cy="132.5" r="19.8" fill="none" stroke="#000" stroke-width=".6"/>
<polygon points="1535.3,112.8 1537.5,152.2 1533.1,152.2" fill="#000"/>
<text x="1535.3" y="108" class="m" style="font-size:6px">北</text>

<!-- ================= TABLE ================= -->
<g>
<rect x="1497.9" y="605" width="67.8" height="363.5" fill="#fff" stroke="#000" stroke-width=".6"/>
<path class="k" d="M1497.9,616.9H1565.7M1497.9,628.5H1565.7M1497.9,640.3H1565.7M1497.9,652H1565.7M1497.9,663.8H1565.7M1497.9,675.5H1565.7M1497.9,687.2H1565.7M1497.9,699H1565.7M1497.9,710.7H1565.7M1497.9,722.4H1565.7M1497.9,734.1H1565.7M1497.9,745.9H1565.7M1497.9,757.6H1565.7M1497.9,769.3H1565.7M1497.9,781.1H1565.7M1497.9,792.8H1565.7M1497.9,804.5H1565.7M1497.9,816.3H1565.7M1497.9,828H1565.7M1497.9,839.7H1565.7M1497.9,851.4H1565.7M1497.9,863.2H1565.7M1497.9,874.9H1565.7M1497.9,886.6H1565.7M1497.9,898.4H1565.7M1497.9,910.1H1565.7M1497.9,921.8H1565.7M1497.9,933.6H1565.7M1497.9,945.3H1565.7M1497.9,957H1565.7M1516.3,628.5V957"/>
<text x="1499.5" y="614.5" style="font-size:8px">层高表</text>
<text x="1499.5" y="626" style="font-size:5px;font-weight:bold">层数</text>
<text x="1519" y="626" style="font-size:5px;font-weight:bold">建筑标高H</text>
<text x="1500" y="637.5" style="font-size:4px;font-weight:bold">机房层</text>
<g style="font-size:8.6px">
<text x="1501" y="649" style="font-size:5px;font-weight:bold">屋面</text><text x="1520" y="649.5" textLength="25" lengthAdjust="spacingAndGlyphs">(77.850)</text>
<text x="1501" y="661.2" textLength="10" lengthAdjust="spacingAndGlyphs">26F</text><text x="1521" y="661.2" textLength="20.5" lengthAdjust="spacingAndGlyphs">75.000</text>
<text x="1501" y="672.9" textLength="10" lengthAdjust="spacingAndGlyphs">25F</text><text x="1521" y="672.9" textLength="20.5" lengthAdjust="spacingAndGlyphs">72.100</text>
<text x="1501" y="684.6" textLength="10" lengthAdjust="spacingAndGlyphs">24F</text><text x="1521" y="684.6" textLength="20.5" lengthAdjust="spacingAndGlyphs">69.200</text>
<text x="1501" y="696.4" textLength="10" lengthAdjust="spacingAndGlyphs">23F</text><text x="1521" y="696.4" textLength="20.5" lengthAdjust="spacingAndGlyphs">66.300</text>
<text x="1501" y="708.1" textLength="10" lengthAdjust="spacingAndGlyphs">22F</text><text x="1521" y="708.1" textLength="20.5" lengthAdjust="spacingAndGlyphs">63.400</text>
<text x="1501" y="719.8" textLength="10" lengthAdjust="spacingAndGlyphs">21F</text><text x="1521" y="719.8" textLength="20.5" lengthAdjust="spacingAndGlyphs">60.500</text>
<text x="1501" y="731.6" textLength="10" lengthAdjust="spacingAndGlyphs">20F</text><text x="1521" y="731.6" textLength="20.5" lengthAdjust="spacingAndGlyphs">57.600</text>
<text x="1500" y="743.3" textLength="10" lengthAdjust="spacingAndGlyphs">19F</text><text x="1521" y="743.3" textLength="20.5" lengthAdjust="spacingAndGlyphs">54.700</text>
<text x="1500" y="755" textLength="10" lengthAdjust="spacingAndGlyphs">18F</text><text x="1521" y="755" textLength="20.5" lengthAdjust="spacingAndGlyphs">51.800</text>
<text x="1500" y="766.7" textLength="10" lengthAdjust="spacingAndGlyphs">17F</text><text x="1521" y="766.7" textLength="20.5" lengthAdjust="spacingAndGlyphs">48.900</text>
<text x="1500" y="778.5" textLength="10" lengthAdjust="spacingAndGlyphs">16F</text><text x="1521" y="778.5" textLength="20.5" lengthAdjust="spacingAndGlyphs">46.000</text>
<text x="1500" y="790.2" textLength="10" lengthAdjust="spacingAndGlyphs">15F</text><text x="1521" y="790.2" textLength="20.5" lengthAdjust="spacingAndGlyphs">43.100</text>
<text x="1500" y="801.9" textLength="10" lengthAdjust="spacingAndGlyphs">14F</text><text x="1521" y="801.9" textLength="20.5" lengthAdjust="spacingAndGlyphs">40.200</text>
<text x="1500" y="813.7" textLength="10" lengthAdjust="spacingAndGlyphs">13F</text><text x="1521" y="813.7" textLength="20.5" lengthAdjust="spacingAndGlyphs">37.300</text>
<text x="1500" y="825.4" textLength="10" lengthAdjust="spacingAndGlyphs">12F</text><text x="1521" y="825.4" textLength="20.5" lengthAdjust="spacingAndGlyphs">34.400</text>
<text x="1500" y="837.1" textLength="10" lengthAdjust="spacingAndGlyphs">11F</text><text x="1521" y="837.1" textLength="20.5" lengthAdjust="spacingAndGlyphs">31.500</text>
<text x="1500" y="848.8" textLength="10" lengthAdjust="spacingAndGlyphs">10F</text><text x="1521" y="848.8" textLength="20.5" lengthAdjust="spacingAndGlyphs">28.600</text>
<text x="1500" y="860.6" textLength="7" lengthAdjust="spacingAndGlyphs">9F</text><text x="1521" y="860.6" textLength="20.5" lengthAdjust="spacingAndGlyphs">25.700</text>
<text x="1500" y="872.3" textLength="7" lengthAdjust="spacingAndGlyphs">8F</text><text x="1521" y="872.3" textLength="20.5" lengthAdjust="spacingAndGlyphs">22.800</text>
<text x="1500" y="884" textLength="7" lengthAdjust="spacingAndGlyphs">7F</text><text x="1521" y="884" textLength="20.5" lengthAdjust="spacingAndGlyphs">19.900</text>
<text x="1500" y="895.8" textLength="7" lengthAdjust="spacingAndGlyphs">6F</text><text x="1521" y="895.8" textLength="20.5" lengthAdjust="spacingAndGlyphs">17.000</text>
<text x="1500" y="907.5" textLength="7" lengthAdjust="spacingAndGlyphs">5F</text><text x="1521" y="907.5" textLength="20.5" lengthAdjust="spacingAndGlyphs">14.100</text>
<text x="1500" y="919.2" textLength="7" lengthAdjust="spacingAndGlyphs">4F</text><text x="1521" y="919.2" textLength="20.5" lengthAdjust="spacingAndGlyphs">11.200</text>
<text x="1500" y="931" textLength="7" lengthAdjust="spacingAndGlyphs">3F</text><text x="1521" y="931" textLength="17" lengthAdjust="spacingAndGlyphs">8.300</text>
<text x="1500" y="942.7" textLength="7" lengthAdjust="spacingAndGlyphs">2F</text><text x="1521" y="942.7" textLength="17" lengthAdjust="spacingAndGlyphs">5.400</text>
<text x="1500" y="954.4" textLength="7" lengthAdjust="spacingAndGlyphs">1F</text><text x="1520" y="954.4" textLength="21" lengthAdjust="spacingAndGlyphs">±0.000</text>
<text x="1499" y="966.4" textLength="20" lengthAdjust="spacingAndGlyphs">±0.000</text>
</g>
<text x="1520" y="966" style="font-size:3.8px;font-weight:bold">相当于绝对标高</text>
<path class="k" d="M1540,965.5H1562M1545,965.5L1551,969L1557,965.5"/>
<text x="1562" y="963" style="font-size:3.5px">x</text>
</g>
</svg>
</body></html>
